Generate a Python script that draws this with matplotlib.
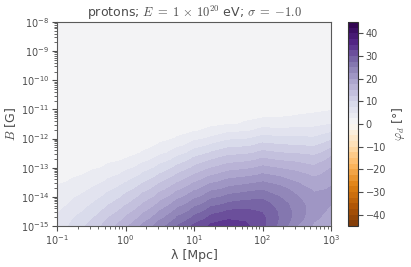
import numpy as np
import matplotlib
matplotlib.use('agg')
import matplotlib.pyplot as plt
import seaborn as sns

# deflection angle phi_d [deg]
# rows = log10(B/G), cols = log10(lambda/Mpc)
log_lam = np.arange(-1.0, 3.01, 0.25)
log_B = np.array([-15.0, -14.75, -14.5, -14.25, -14.0, -13.75, -13.5, -13.25, -13.0, -12.75,
                  -12.5, -12.25, -12.0, -11.75, -11.5, -11.25, -11.0, -10.5, -10.0, -9.0, -8.0])
phi_d = np.array([
    [6.0, 8.5, 11.0, 14.0, 17.0, 20.5, 24.0, 27.5, 30.5, 33.0, 34.0, 33.0, 30.5, 26.5, 22.5, 19.5, 17.0],
    [5.4, 7.6, 9.8, 12.6, 15.4, 18.7, 22.0, 25.4, 28.3, 31.0, 32.2, 32.0, 30.5, 27.2, 23.5, 20.5, 18.3],
    [4.7, 6.6, 8.7, 11.2, 13.8, 16.9, 20.1, 23.3, 26.1, 28.8, 30.3, 30.5, 29.8, 27.0, 23.8, 21.0, 19.3],
    [4.1, 5.7, 7.5, 9.8, 12.2, 15.1, 18.1, 21.2, 23.9, 26.5, 27.9, 28.5, 28.5, 26.2, 23.5, 21.0, 20.0],
    [3.4, 4.8, 6.4, 8.4, 10.6, 13.3, 16.1, 19.1, 21.7, 24.2, 25.6, 26.3, 26.8, 25.0, 22.7, 20.5, 20.3],
    [2.8, 3.8, 5.2, 7.0, 9.0, 11.5, 14.2, 16.9, 19.5, 21.9, 23.2, 24.0, 24.8, 23.4, 21.5, 19.6, 20.2],
    [2.2, 2.9, 4.0, 5.6, 7.4, 9.7, 12.2, 14.8, 17.3, 19.6, 20.9, 21.6, 22.6, 21.5, 20.0, 18.4, 19.6],
    [1.9, 2.2, 2.9, 4.2, 5.8, 7.9, 10.2, 12.7, 15.1, 17.3, 18.6, 19.2, 20.3, 19.4, 18.3, 17.0, 18.6],
    [1.6, 1.9, 2.2, 2.8, 4.2, 6.1, 8.3, 10.6, 12.9, 14.9, 16.2, 16.8, 18.0, 17.2, 16.4, 15.4, 17.4],
    [1.4, 1.6, 1.9, 2.2, 2.6, 4.3, 6.3, 8.5, 10.8, 12.6, 13.9, 14.4, 15.6, 14.9, 14.4, 13.7, 15.8],
    [1.2, 1.4, 1.6, 1.9, 2.1, 2.6, 4.3, 6.4, 8.6, 10.3, 11.6, 12.0, 13.2, 12.6, 12.3, 11.8, 13.9],
    [1.0, 1.2, 1.4, 1.6, 1.8, 2.1, 2.7, 4.3, 6.4, 7.9, 9.2, 9.6, 10.8, 10.3, 10.1, 9.8, 11.6],
    [0.9, 1.0, 1.2, 1.4, 1.5, 1.8, 2.1, 2.6, 4.2, 5.5, 6.9, 7.2, 8.4, 8.0, 7.9, 7.8, 9.3],
    [0.8, 0.9, 1.0, 1.2, 1.3, 1.5, 1.8, 2.1, 2.4, 3.0, 4.5, 4.8, 6.0, 5.7, 5.8, 5.9, 7.0],
    [0.7, 0.8, 0.9, 1.0, 1.1, 1.3, 1.5, 1.8, 2.0, 2.1, 2.3, 2.7, 3.6, 3.6, 3.9, 4.1, 4.9],
    [0.6, 0.7, 0.8, 0.9, 1.0, 1.1, 1.3, 1.5, 1.7, 1.8, 1.9, 2.0, 2.2, 2.4, 2.6, 2.8, 3.3],
    [0.5, 0.6, 0.7, 0.8, 0.9, 1.0, 1.1, 1.3, 1.4, 1.5, 1.6, 1.7, 1.8, 1.9, 2.0, 2.1, 2.3],
    [0.4, 0.5, 0.5, 0.6, 0.6, 0.7, 0.8, 0.9, 1.0, 1.0, 1.1, 1.1, 1.2, 1.3, 1.3, 1.4, 1.5],
    [0.3, 0.4, 0.4, 0.4, 0.5, 0.5, 0.6, 0.6, 0.7, 0.7, 0.7, 0.7, 0.8, 0.8, 0.9, 0.9, 1.0],
    [0.2, 0.2, 0.2, 0.2, 0.3, 0.3, 0.3, 0.3, 0.3, 0.3, 0.3, 0.3, 0.3, 0.3, 0.4, 0.4, 0.4],
    [0.1, 0.1, 0.1, 0.1, 0.1, 0.1, 0.1, 0.1, 0.1, 0.1, 0.1, 0.1, 0.1, 0.1, 0.1, 0.1, 0.1],
])
levels = np.linspace(-45, 45, 37)
cbar_ticks = [-40, -30, -20, -10, 0, 10, 20, 30, 40]

sns.set_style('ticks')
plt.rcParams['font.family'] = ['DejaVu Sans']
plt.rcParams['mathtext.fontset'] = 'dejavusans'
txt = '.3'

fig = plt.figure(figsize=(4.11, 2.67), dpi=100)
ax = fig.add_axes([0.1387, 0.1536, 0.6667, 0.764])
cax = fig.add_axes([0.8467, 0.1536, 0.0243, 0.764])

lam, B = np.meshgrid(10.0**log_lam, 10.0**log_B)
cs = ax.contourf(lam, B, phi_d, levels=levels, cmap='PuOr')
ax.set_xscale('log')
ax.set_yscale('log')
ax.set_xlim(1e-1, 1e3)
ax.set_ylim(1e-15, 1e-8)

ax.set_xlabel('λ [Mpc]', fontsize=9, color=txt, labelpad=1)
ax.set_ylabel(r'$B$ [G]', fontsize=9, color=txt, labelpad=2, math_fontfamily='cm')
ax.set_title(r'protons; $E\;=\;1\,\times\,10^{20}$ eV; $\sigma\;=\;{-1.0}$', fontsize=9,
             color=txt, pad=3, math_fontfamily='cm')
ax.tick_params(which='major', length=3.5, width=0.8, labelsize=7, colors=txt, pad=2)
ax.tick_params(which='minor', length=2, width=0.6, colors=txt)
ax.yaxis.set_major_locator(matplotlib.ticker.LogLocator(base=10, numticks=10))
ax.yaxis.set_minor_locator(matplotlib.ticker.LogLocator(base=10, subs=np.arange(2, 10), numticks=20))
for s in ax.spines.values():
    s.set_color('.35')
    s.set_linewidth(0.8)

cb = fig.colorbar(cs, cax=cax, ticks=cbar_ticks)
cb.outline.set_edgecolor('.2')
cb.outline.set_linewidth(0.8)
cb.ax.tick_params(length=3.5, width=0.8, labelsize=7, colors=txt, pad=2)
cb.set_label(r'$\varphi_d$ [°]', fontsize=9, color=txt, rotation=90, labelpad=3,
             math_fontfamily='cm')

fig.savefig('out.png', dpi=100)
